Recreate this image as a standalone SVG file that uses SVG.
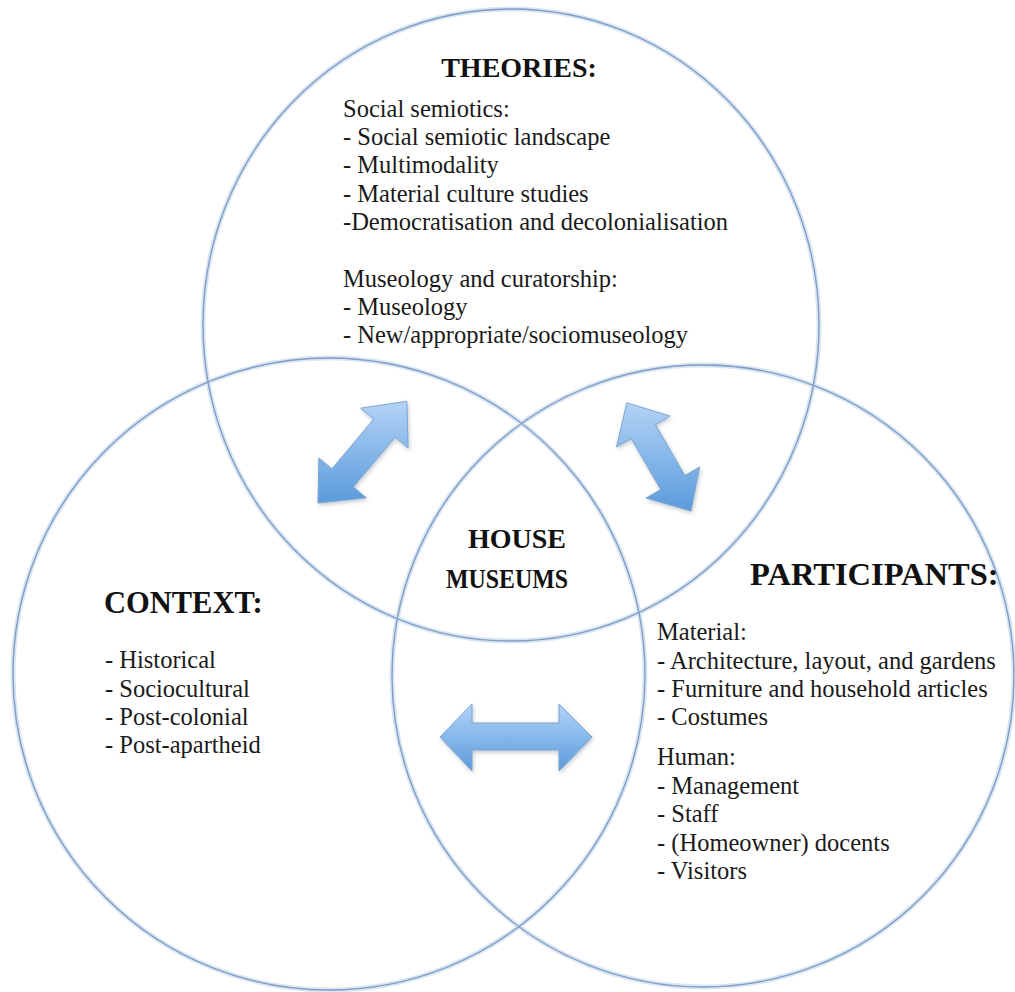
<svg xmlns="http://www.w3.org/2000/svg" width="1015" height="992" viewBox="0 0 1015 992">
  <defs>
    <linearGradient id="arrowGrad" x1="0" y1="0" x2="0" y2="1">
      <stop offset="0" stop-color="#b3d3f6"/>
      <stop offset="1" stop-color="#5a9bdc"/>
    </linearGradient>
    <filter id="shadow" x="-20%" y="-20%" width="140%" height="140%">
      <feDropShadow dx="1" dy="2" stdDeviation="2" flood-color="#7a8796" flood-opacity="0.45"/>
    </filter>
    <style>
      .glow { fill: none; stroke: #dbe6f3; stroke-width: 5; }
      .ring { fill: none; stroke: #7f9dc6; stroke-width: 1.4; }
      .head { font-family: "Liberation Serif", "Times New Roman", serif; font-weight: bold; fill: #111; }
      .body { font-family: "Liberation Serif", "Times New Roman", serif; font-size: 24.5px; fill: #1a1a1a; }
      .arrow { fill: url(#arrowGrad); stroke: #7fa6cf; stroke-width: 1; filter: url(#shadow); }
    </style>
  </defs>
  <rect width="1015" height="992" fill="#ffffff"/>

  <g id="circles">
    <ellipse class="glow" cx="511" cy="325" rx="308" ry="316"/>
    <circle class="glow" cx="329" cy="674" r="316"/>
    <circle class="glow" cx="703" cy="676" r="311"/>
    <ellipse class="ring" cx="511" cy="325" rx="308" ry="316"/>
    <circle class="ring" cx="329" cy="674" r="316"/>
    <circle class="ring" cx="703" cy="676" r="311"/>
  </g>

  <g id="theories">
    <text class="head" x="519" y="77" text-anchor="middle" style="font-size:28px">THEORIES:</text>
    <text class="body" x="343" y="117">Social semiotics:</text>
    <text class="body" x="343" y="145">- Social semiotic landscape</text>
    <text class="body" x="343" y="173">- Multimodality</text>
    <text class="body" x="343" y="202">- Material culture studies</text>
    <text class="body" x="343" y="230">-Democratisation and decolonialisation</text>
    <text class="body" x="343" y="287">Museology and curatorship:</text>
    <text class="body" x="343" y="315">- Museology</text>
    <text class="body" x="343" y="343">- New/appropriate/sociomuseology</text>
  </g>

  <g id="house-museums">
    <text class="head" x="468" y="548" style="font-size:28px" textLength="98" lengthAdjust="spacingAndGlyphs">HOUSE</text>
    <text class="head" x="446" y="588" style="font-size:28px" textLength="122" lengthAdjust="spacingAndGlyphs">MUSEUMS</text>
  </g>

  <g id="context">
    <text class="head" x="104" y="613" style="font-size:30.5px">CONTEXT:</text>
    <text class="body" x="105" y="668">- Historical</text>
    <text class="body" x="105" y="697">- Sociocultural</text>
    <text class="body" x="105" y="725">- Post-colonial</text>
    <text class="body" x="105" y="753">- Post-apartheid</text>
  </g>

  <g id="participants">
    <text class="head" x="750" y="585" style="font-size:32.5px">PARTICIPANTS:</text>
    <text class="body" x="657" y="640">Material:</text>
    <text class="body" x="657" y="669">- Architecture, layout, and gardens</text>
    <text class="body" x="657" y="697">- Furniture and household articles</text>
    <text class="body" x="657" y="725">- Costumes</text>
    <text class="body" x="657" y="765">Human:</text>
    <text class="body" x="657" y="794">- Management</text>
    <text class="body" x="657" y="822">- Staff</text>
    <text class="body" x="657" y="851">- (Homeowner) docents</text>
    <text class="body" x="657" y="879">- Visitors</text>
  </g>

  <g id="connectors">
    <polygon class="arrow" points="406.9,401.3 408.1,448.0 395.1,437.1 353.3,486.9 366.3,497.8 318,503 318.9,458.0 331.9,468.9 373.7,419.1 360.7,408.2"/>
    <polygon class="arrow" points="626.8,402.9 670.1,416.0 655.4,424.5 684.9,475.5 699.6,467.0 691,511 646.0,498.0 660.7,489.5 631.2,438.5 616.5,447.0"/>
    <polygon class="arrow" points="440,737 472,704 472,723 559,723 559,704 592,737 559,771 559,750 472,750 472,771"/>
  </g>
</svg>
